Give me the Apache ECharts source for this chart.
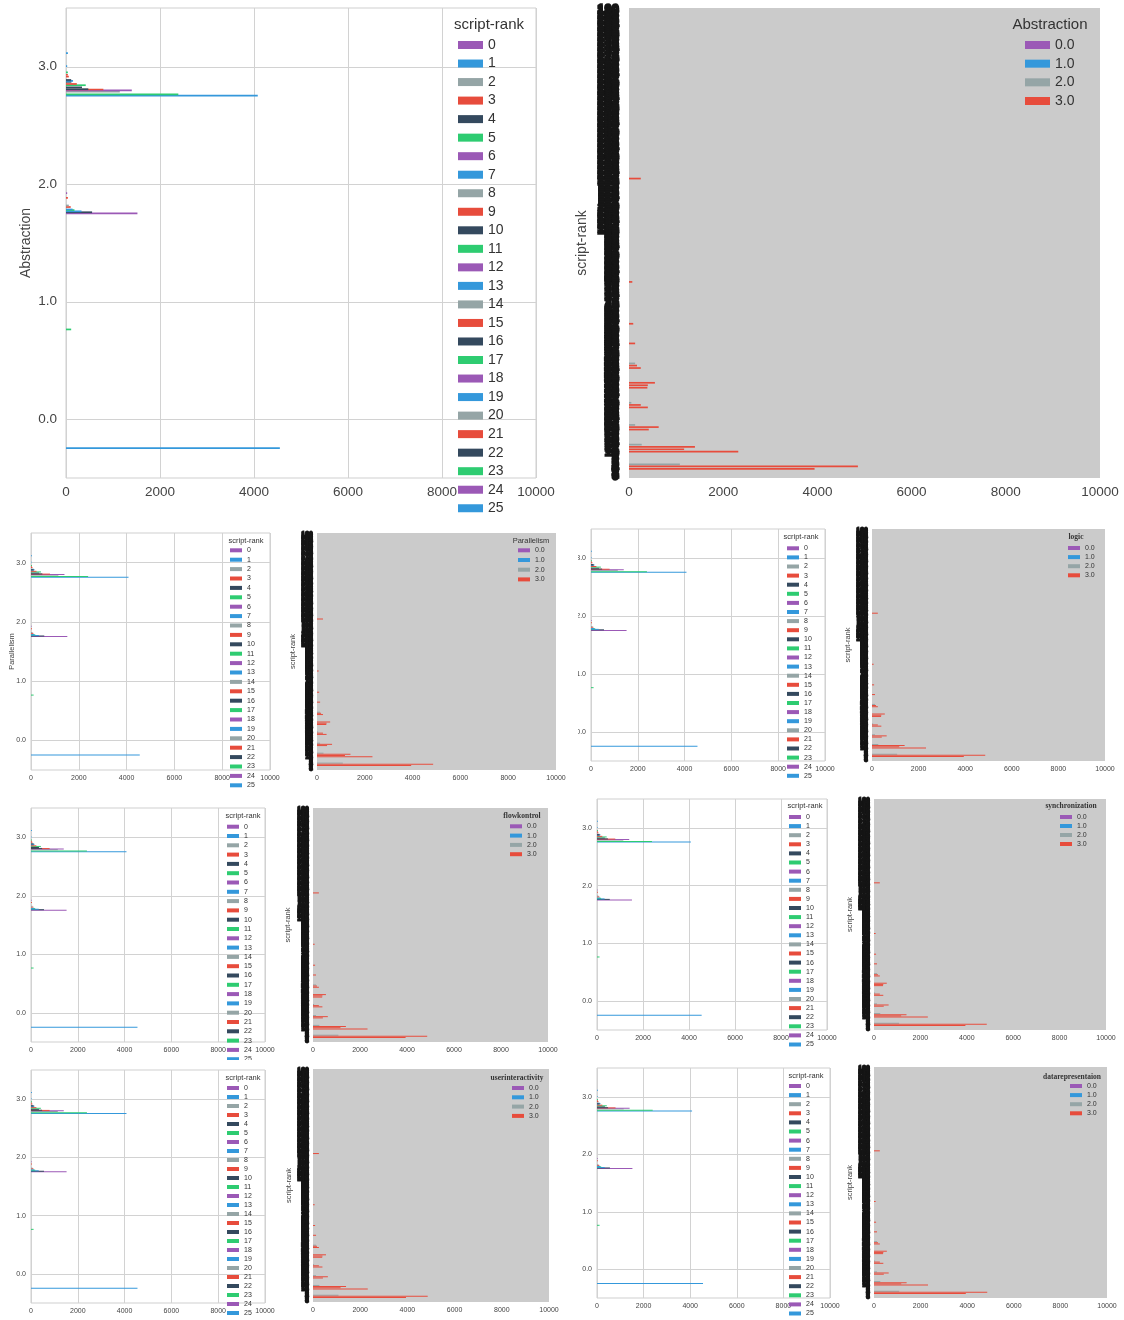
<!DOCTYPE html>
<html>
<head>
<meta charset="utf-8">
<script src="https://cdn.jsdelivr.net/npm/echarts@6/dist/echarts.min.js"></script>
<style>
  html, body { margin: 0; padding: 0; background: #ffffff; }
  body { position: relative; width: 1124px; height: 1320px; overflow: hidden; }
  .clip { position: absolute; overflow: hidden; }
</style>
</head>
<body>
<script>
// ---------------- DATA ----------------
const PALETTE = ['#9b59b6', '#3498db', '#95a5a6', '#e74c3c', '#34495e', '#2ecc71'];
const LEVEL_LABELS = ['0.0', '1.0', '2.0', '3.0'];
const N_RANKS = 191;
const RANK_LABELS = Array.from({ length: N_RANKS }, (_, i) => String(i));
const LEGEND_RANKS = RANK_LABELS.slice(0, 26);
const X_MAX = 10000;
const X_STEP = 2000;

// left panels: count per level, split by script-rank  -> [script-rank, count]
const level0ByRank = [[1, 4550]];
const level1ByRank = [[5, 110]];
const level2ByRank = [[0, 1520], [4, 555], [7, 330], [11, 180], [13, 140], [21, 100], [26, 60], [51, 40], [66, 25]];
const level3ByRank = [[1, 4080], [5, 2390], [14, 1145], [18, 1400], [21, 795], [22, 475], [28, 340], [35, 420],
                      [39, 230], [46, 115], [49, 150], [52, 110], [63, 60], [69, 40], [77, 40], [97, 25], [139, 40]];

// right panels: count per script-rank, split by level -> [script-rank, count]
const rankLevel0 = [];
const rankLevel1 = [];
const rankLevel2 = [[5, 1080], [13, 270], [21, 130], [30, 50], [46, 130]];
const rankLevel3 = [[3, 3940], [4, 4860], [10, 2320], [11, 1170], [12, 1400], [19, 420], [20, 630], [28, 400],
                    [29, 250], [36, 390], [37, 400], [38, 550], [44, 250], [45, 170], [54, 130], [62, 90], [79, 70], [121, 250]];

const LEFT_DATA = [level0ByRank, level1ByRank, level2ByRank, level3ByRank];
const RIGHT_DATA = [rankLevel0, rankLevel1, rankLevel2, rankLevel3];

// ---------------- LAYOUT ----------------
const SANS = "'Liberation Sans', Arial, sans-serif";
const SERIF = "'Liberation Serif', 'Times New Roman', serif";

const BIG = { tick: 13.5, xMargin: 7, yMargin: 9, nameFont: 14, catFont: 13, catMargin: 10, catBorder: 1.6,
              tFont: 15, lFont: 14, sw: 25, sh: 8, barH: 1.7 };
const SMALL = { tick: 7, xMargin: 4.5, yMargin: 5, nameFont: 7.5, catFont: 7, catMargin: 4, catBorder: 0.9,
                tFont: 7.5, lFont: 7, sw: 12, sh: 4, barH: 1.0 };

const PANELS = [
  { kind: 'L', clip: [0, 0, 560, 518], grid: [66, 8, 470, 470], S: BIG, yName: 'Abstraction', nameGap: 33,
    leg: { title: 'script-rank', tx: 489, ty: 25, sx: 458, r0: 45, step: 18.53 } },
  { kind: 'R', clip: [560, 0, 564, 518], grid: [629, 8, 471, 470], S: BIG, yName: 'script-rank', nameGap: 40,
    leg: { title: 'Abstraction', tx: 1050, ty: 25, sx: 1025, r0: 45, step: 18.67 } },

  { kind: 'L', clip: [0, 522, 282, 266], grid: [31, 533, 239, 237], S: SMALL, yName: 'Parallelism', nameGap: 15.5,
    leg: { title: 'script-rank', tx: 246, ty: 541, sx: 230, r0: 550.3, step: 9.4 } },
  { kind: 'R', clip: [282, 522, 296, 266], grid: [317, 533, 239, 237], S: SMALL, yName: 'script-rank', nameGap: 20.5,
    leg: { title: 'Parallelism', tx: 531, ty: 541, sx: 518, r0: 550.3, step: 9.7 } },
  { kind: 'L', clip: [578, 522, 262, 256], grid: [591, 529, 234, 232], S: SMALL, yName: '', nameGap: 15,
    leg: { title: 'script-rank', tx: 801, ty: 537.3, sx: 787, r0: 548.3, step: 9.1 } },
  { kind: 'R', clip: [840, 522, 284, 256], grid: [872, 529, 233, 232], S: SMALL, yName: 'script-rank', nameGap: 20.5,
    leg: { title: 'logic', serif: true, tx: 1076, ty: 537, sx: 1068, r0: 548, step: 9.1 } },

  { kind: 'L', clip: [0, 795, 282, 265], grid: [31, 808, 234, 234], S: SMALL, yName: '', nameGap: 15,
    leg: { title: 'script-rank', tx: 243, ty: 816, sx: 227, r0: 826.7, step: 9.3 } },
  { kind: 'R', clip: [282, 795, 296, 265], grid: [313, 808, 235, 234], S: SMALL, yName: 'script-rank', nameGap: 21.5,
    leg: { title: 'flowkontrol', serif: true, tx: 522, ty: 816, sx: 510, r0: 826.3, step: 9.3 } },
  { kind: 'L', clip: [578, 790, 262, 258], grid: [597, 799, 230, 231], S: SMALL, yName: '', nameGap: 15,
    leg: { title: 'script-rank', tx: 805, ty: 806, sx: 789, r0: 817, step: 9.1 } },
  { kind: 'R', clip: [840, 790, 284, 258], grid: [874, 799, 232, 231], S: SMALL, yName: 'script-rank', nameGap: 20.5,
    leg: { title: 'synchronization', serif: true, tx: 1071, ty: 806, sx: 1060, r0: 817, step: 9 } },

  { kind: 'L', clip: [0, 1062, 282, 258], grid: [31, 1070, 234, 233], S: SMALL, yName: '', nameGap: 15,
    leg: { title: 'script-rank', tx: 243, ty: 1078, sx: 227, r0: 1088, step: 9.0 } },
  { kind: 'R', clip: [282, 1062, 296, 258], grid: [313, 1069, 236, 233], S: SMALL, yName: 'script-rank', nameGap: 20.5,
    leg: { title: 'userinteractivity', serif: true, tx: 517, ty: 1078, sx: 512, r0: 1088, step: 9.3 } },
  { kind: 'L', clip: [578, 1060, 262, 260], grid: [597, 1068, 233, 230], S: SMALL, yName: '', nameGap: 15,
    leg: { title: 'script-rank', tx: 806, ty: 1076, sx: 789, r0: 1086, step: 9.1 } },
  { kind: 'R', clip: [840, 1060, 284, 260], grid: [874, 1067, 233, 231], S: SMALL, yName: 'script-rank', nameGap: 20.5,
    leg: { title: 'datarepresentaion', serif: true, tx: 1072, ty: 1077, sx: 1070, r0: 1086, step: 9.1 } }
];

// ---------------- BUILDERS ----------------
function xAxisCfg(S, withGrid) {
  return {
    type: 'value', min: 0, max: X_MAX, interval: X_STEP,
    axisLine: { show: false }, axisTick: { show: false },
    splitLine: { show: withGrid, lineStyle: { color: '#d2d2d2', width: 1 } },
    axisLabel: { fontSize: S.tick, color: '#444', fontFamily: SANS, margin: S.xMargin,
                 showMinLabel: true, showMaxLabel: true, formatter: v => String(v) }
  };
}

function legendParts(p, names) {
  const S = p.S, L = p.leg;
  return {
    legend: {
      orient: 'vertical', data: names, icon: 'rect', selectedMode: false,
      left: L.sx - p.clip[0], top: L.r0 - L.step / 2 - p.clip[1],
      padding: 0, itemGap: 0, itemWidth: S.sw, itemHeight: S.sh,
      textStyle: { fontSize: S.lFont, lineHeight: L.step, color: '#333', fontFamily: SANS }
    },
    graphic: [{
      type: 'text', x: L.tx - p.clip[0], y: L.ty - p.clip[1], z: 100,
      style: { text: L.title, fill: '#333',
               fontSize: S.tFont, fontFamily: L.serif ? SERIF : SANS, fontWeight: L.serif ? 'bold' : 'normal',
               textAlign: 'center', textVerticalAlign: 'middle', align: 'center', verticalAlign: 'middle' }
    }]
  };
}

function yNameCfg(p) {
  return {
    name: p.yName, nameLocation: 'middle', nameGap: p.nameGap, nameRotate: 90, nameMoveOverlap: false,
    nameTextStyle: { fontSize: p.S.nameFont, color: '#444', fontFamily: SANS }
  };
}

function leftOption(p) {
  const S = p.S;
  const ranks = new Set(LEGEND_RANKS.map(Number));
  LEFT_DATA.forEach(arr => arr.forEach(d => ranks.add(d[0])));
  const series = [...ranks].sort((a, b) => a - b).map(r => ({
    type: 'custom', name: String(r), coordinateSystem: 'cartesian2d',
    itemStyle: { color: PALETTE[r % PALETTE.length] },
    encode: { x: 0, y: 1 },
    data: LEFT_DATA.flatMap((arr, lvl) => arr.filter(d => d[0] === r).map(d => [d[1], lvl])),
    renderItem: (params, api) => {
      const v = api.value(0), lvl = api.value(1);
      const a = api.coord([0, lvl]), b = api.coord([v, lvl]);
      const band = api.size([0, 1])[1];
      const off = (-0.25 + (r + 0.5) * 0.5 / N_RANKS) * band;
      const h = Math.max(band * 0.5 / N_RANKS, S.barH);
      return { type: 'rect', shape: { x: a[0], y: a[1] - off - h / 2, width: b[0] - a[0], height: h },
               style: { fill: api.visual('color') } };
    }
  }));
  const lp = legendParts(p, LEGEND_RANKS);
  return {
    animation: false,
    grid: { left: p.grid[0] - p.clip[0], top: p.grid[1] - p.clip[1], width: p.grid[2], height: p.grid[3],
            show: true, backgroundColor: '#ffffff', borderColor: '#cfcfcf', borderWidth: 1, outerBoundsMode: 'none' },
    xAxis: xAxisCfg(S, true),
    yAxis: Object.assign({
      type: 'category', data: LEVEL_LABELS,
      axisLine: { show: false }, axisTick: { show: false },
      splitLine: { show: true, alignWithLabel: true, lineStyle: { color: '#d2d2d2', width: 1 } },
      axisLabel: { fontSize: S.tick, color: '#444', fontFamily: SANS, margin: S.yMargin }
    }, yNameCfg(p)),
    legend: lp.legend, graphic: lp.graphic,
    series
  };
}

function rightOption(p) {
  const S = p.S;
  const series = RIGHT_DATA.map((arr, s) => ({
    type: 'custom', name: LEVEL_LABELS[s], coordinateSystem: 'cartesian2d',
    itemStyle: { color: PALETTE[s] },
    encode: { x: 0, y: 1 },
    data: arr.map(d => [d[1], d[0]]),
    renderItem: (params, api) => {
      const v = api.value(0), c = api.value(1);
      const a = api.coord([0, c]), b = api.coord([v, c]);
      const band = api.size([0, 1])[1];
      const off = (-0.25 + (s + 0.5) * 0.125) * band;
      const h = Math.max(band * 0.125, S.barH);
      return { type: 'rect', shape: { x: a[0], y: a[1] - off - h / 2, width: b[0] - a[0], height: h },
               style: { fill: api.visual('color') } };
    }
  }));
  const lp = legendParts(p, LEVEL_LABELS);
  return {
    animation: false,
    grid: { left: p.grid[0] - p.clip[0], top: p.grid[1] - p.clip[1], width: p.grid[2], height: p.grid[3],
            show: true, backgroundColor: '#cbcbcb', borderWidth: 0, outerBoundsMode: 'none' },
    xAxis: xAxisCfg(S, false),
    yAxis: Object.assign({
      type: 'category', data: RANK_LABELS,
      axisLine: { show: false }, axisTick: { show: false }, splitLine: { show: false },
      axisLabel: { interval: 0, fontSize: S.catFont, fontWeight: 'bold', color: '#161616', fontFamily: SANS,
                   margin: S.catMargin, hideOverlap: false,
                   textBorderColor: '#161616', textBorderWidth: S.catBorder }
    }, yNameCfg(p)),
    legend: lp.legend, graphic: lp.graphic,
    series
  };
}

PANELS.forEach(p => {
  const clip = document.createElement('div');
  clip.className = 'clip';
  clip.style.left = p.clip[0] + 'px';
  clip.style.top = p.clip[1] + 'px';
  clip.style.width = p.clip[2] + 'px';
  clip.style.height = p.clip[3] + 'px';
  const inner = document.createElement('div');
  inner.style.position = 'absolute';
  inner.style.left = '0px';
  inner.style.top = '0px';
  inner.style.width = p.clip[2] + 'px';
  inner.style.height = (p.clip[3] + 120) + 'px';
  clip.appendChild(inner);
  document.body.appendChild(clip);
  const chart = echarts.init(inner, null, { renderer: 'canvas' });
  chart.setOption(p.kind === 'L' ? leftOption(p) : rightOption(p));
});
</script>
</body>
</html>
